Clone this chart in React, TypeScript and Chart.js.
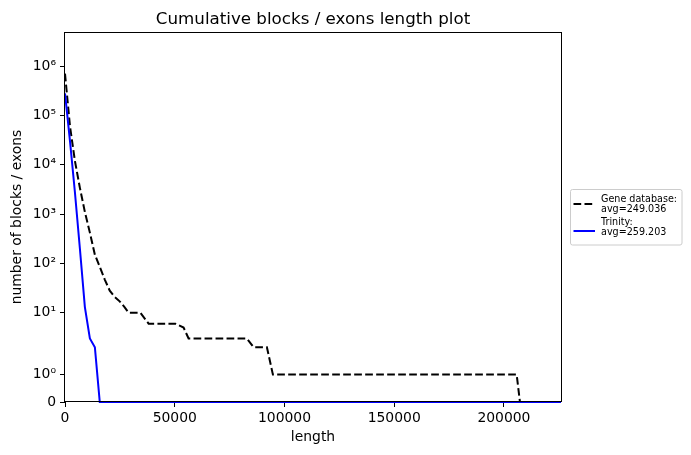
import { useEffect, useRef } from 'react';
import { Chart, Scale, registerables } from 'chart.js';

Chart.register(...registerables);

// cumulative number of blocks / exons at or above each length
const geneLengths = [0, 2276, 4507, 6782, 9058, 11334, 13610, 15841, 18117, 20393, 22623, 24899, 27130, 29000, 34321, 38100, 50254, 54032, 56308, 82892, 85896, 91995, 94727, 205800, 207300, 226000];
const geneCounts = [700000, 60000, 12000, 3400, 1100, 420, 150, 85, 47, 28, 21, 17, 13, 10, 10, 6, 6, 5, 3, 3, 2, 2, 1, 1, 0, 0];
const trinityLengths = [0, 2276, 4507, 6782, 9058, 11334, 13610, 15841, 226000];
const trinityCounts = [280000, 30000, 2800, 200, 13, 3, 2, 0, 0];

const xTicks = [0, 50000, 100000, 150000, 200000];
const yTicks = [0, 1, 10, 100, 1000, 10000, 100000, 1000000];

const seriesNames = ['Gene database:', 'Trinity:'];
const seriesAvg = ['avg=249.036', 'avg=259.203'];

const FONT = '"DejaVu Sans", sans-serif';

// matplotlib style symlog: linear below LINTHRESH, log10 above
const LINTHRESH = 2;
const LINSCALE_ADJ = 1 / (1 - 1 / 10);

function symlog(v: number) {
  const a = Math.abs(v);
  if (a <= LINTHRESH) return (v * LINSCALE_ADJ) / LINTHRESH;
  return Math.sign(v) * (LINSCALE_ADJ + Math.log10(a / LINTHRESH));
}

function symexp(t: number) {
  const a = Math.abs(t);
  if (a <= LINSCALE_ADJ) return (t * LINTHRESH) / LINSCALE_ADJ;
  return Math.sign(t) * LINTHRESH * Math.pow(10, a - LINSCALE_ADJ);
}

class SymlogScale extends Scale {
  static id = 'symlog';
  static defaults = {};
  _startT = 0;
  _rangeT = 1;

  determineDataLimits() {
    const { min, max } = this.getMinMax(true);
    this.min = isFinite(min) ? min : 0;
    this.max = isFinite(max) ? max : 1;
  }

  buildTicks() {
    return [];
  }

  configure() {
    super.configure();
    this._startT = symlog(this.min);
    this._rangeT = symlog(this.max) - this._startT;
  }

  getLabelForValue(value: number) {
    return String(value);
  }

  getPixelForValue(value: number) {
    if (value === undefined || value === null || isNaN(value)) return NaN;
    return this.getPixelForDecimal((symlog(value) - this._startT) / this._rangeT);
  }

  getValueForPixel(pixel: number) {
    return symexp(this._startT + this.getDecimalForPixel(pixel) * this._rangeT);
  }
}

Chart.register(SymlogScale as any);

const SUP = '⁰¹²³⁴⁵⁶⁷⁸⁹';
const powLabel = (v: number) => {
  if (v === 0) return '0';
  const e = Math.round(Math.log10(v));
  return '10' + String(e).split('').map(d => SUP[Number(d)]).join('');
};

const decor = {
  id: 'decor',
  afterDraw(chart: Chart) {
    const { ctx, chartArea } = chart;
    const { left, right, top, bottom } = chartArea;
    ctx.save();

    // axes frame
    ctx.strokeStyle = '#000';
    ctx.lineWidth = 1;
    ctx.strokeRect(Math.round(left) - 0.5, Math.round(top) + 0.5, Math.round(right - left) + 1, Math.round(bottom - top) - 1);

    // title
    ctx.fillStyle = '#000';
    ctx.font = `16.7px ${FONT}`;
    ctx.textAlign = 'center';
    ctx.textBaseline = 'alphabetic';
    ctx.fillText('Cumulative blocks / exons length plot', (left + right) / 2, top - 8);

    // axis titles
    ctx.font = `13.9px ${FONT}`;
    ctx.fillText('length', (left + right) / 2, bottom + 38.5);
    ctx.save();
    ctx.translate(21, (top + bottom) / 2);
    ctx.rotate(-Math.PI / 2);
    ctx.fillText('number of blocks / exons', 0, 0);
    ctx.restore();

    // legend outside the axes
    const bx = right + 9.5;
    const by = 189.5;
    ctx.beginPath();
    ctx.roundRect(bx, by, 111.5, 55.5, 2);
    ctx.fillStyle = 'rgba(255,255,255,0.8)';
    ctx.fill();
    ctx.strokeStyle = '#cccccc';
    ctx.stroke();

    const colors = ['#000000', '#0000ff'];
    const dashes = [[7.7, 3.3], []];
    const sampleY = [204, 231];
    const baseY = [201.5, 224.5];
    chart.data.datasets.forEach((_, i) => {
      ctx.beginPath();
      ctx.setLineDash(dashes[i]);
      ctx.strokeStyle = colors[i];
      ctx.lineWidth = 2;
      ctx.moveTo(right + 12.5, sampleY[i]);
      ctx.lineTo(right + 34, sampleY[i]);
      ctx.stroke();
      ctx.setLineDash([]);
      ctx.fillStyle = '#000';
      ctx.font = `9.6px ${FONT}`;
      ctx.textAlign = 'left';
      ctx.fillText(seriesNames[i], right + 40, baseY[i]);
      ctx.fillText(seriesAvg[i], right + 40, baseY[i] + 10.5);
    });

    ctx.restore();
  },
};

export default function App() {
  const canvasRef = useRef<HTMLCanvasElement>(null);
  const chartRef = useRef<Chart | null>(null);

  useEffect(() => {
    document.body.style.margin = '0';
    if (!canvasRef.current) return;
    if (chartRef.current) chartRef.current.destroy();

    chartRef.current = new Chart(canvasRef.current, {
      type: 'line',
      data: {
        datasets: [
          {
            label: 'Gene database',
            data: geneLengths.map((x, i) => ({ x, y: geneCounts[i] })),
            borderColor: '#000000',
            borderWidth: 2,
            borderDash: [7.7, 3.3],
            pointRadius: 0,
            tension: 0,
            fill: false,
            clip: 4,
            order: 2,
          },
          {
            label: 'Trinity',
            data: trinityLengths.map((x, i) => ({ x, y: trinityCounts[i] })),
            borderColor: '#0000ff',
            borderWidth: 2,
            pointRadius: 0,
            tension: 0,
            fill: false,
            clip: 4,
            order: 1,
          },
        ],
      },
      options: {
        responsive: false,
        animation: false,
        layout: { padding: { left: 0, right: 130, top: 32, bottom: 0 } },
        plugins: {
          legend: { display: false },
          title: { display: false },
          tooltip: { enabled: false },
        },
        scales: {
          x: {
            type: 'linear',
            min: 0,
            max: 226000,
            afterBuildTicks: (scale: any) => {
              scale.ticks = xTicks.map(value => ({ value }));
            },
            afterFit: (scale: any) => {
              scale.height = 53;
            },
            grid: { drawOnChartArea: false, drawTicks: true, tickLength: 5, tickColor: '#000', tickWidth: 1 },
            border: { display: false },
            ticks: {
              color: '#000',
              font: { family: FONT, size: 13.9 },
              padding: 3,
              maxRotation: 0,
              autoSkip: false,
              callback: (v: any) => String(v),
            },
          },
          y: {
            type: 'symlog' as any,
            min: 0,
            max: 4.9e6,
            afterBuildTicks: (scale: any) => {
              scale.ticks = yTicks.map(value => ({ value }));
            },
            afterFit: (scale: any) => {
              scale.width = 65;
            },
            grid: { drawOnChartArea: false, drawTicks: true, tickLength: 5, tickColor: '#000', tickWidth: 1 },
            border: { display: false },
            ticks: {
              color: '#000',
              font: { family: FONT, size: 13.9 },
              padding: 4,
              autoSkip: false,
              callback: (v: any) => powLabel(Number(v)),
            },
          },
        },
      },
      plugins: [decor],
    } as any);

    return () => {
      if (chartRef.current) {
        chartRef.current.destroy();
        chartRef.current = null;
      }
    };
  }, []);

  return (
    <div style={{ width: 691, height: 455, background: '#fff' }}>
      <canvas ref={canvasRef} width={691} height={455} />
    </div>
  );
}
